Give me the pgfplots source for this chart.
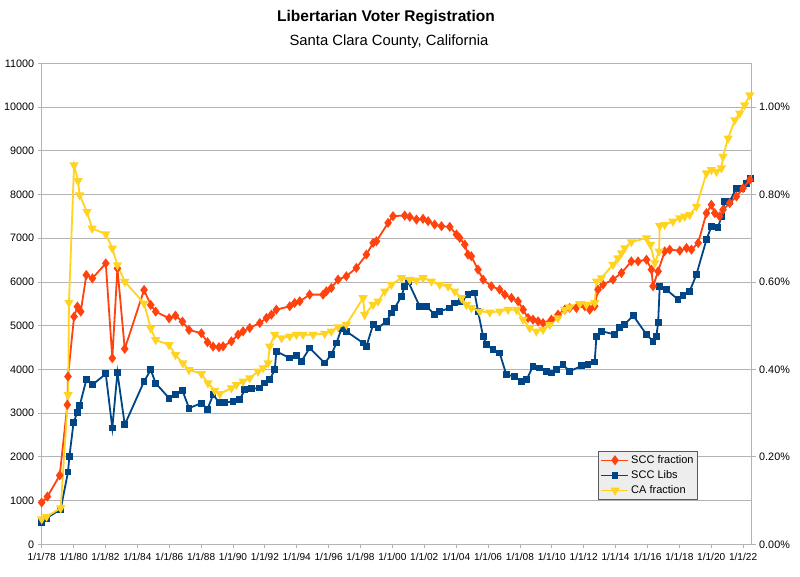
\documentclass[border=0pt]{standalone}
\usepackage{fontspec}
\setmainfont{Liberation Sans}
\usepackage{pgfplots}
\pgfplotsset{compat=1.18}
\definecolor{cred}{HTML}{FF420E}
\definecolor{cblue}{HTML}{004586}
\definecolor{cyel}{HTML}{FFD320}
\definecolor{cgrid}{HTML}{B3B3B3}
\begin{document}
\begin{tikzpicture}
\pgfplotsset{
  common/.style={
    scale only axis, width=710pt, height=481pt,
    at={(0,0)}, anchor=south west,
    xmin=1978, xmax=2022.54,
    tick style={cgrid, line width=0.8pt},
    tick align=outside, major tick length=4pt,
    yticklabel style={font=\fontsize{10.8}{13}\selectfont, text=black},
    xticklabel style={font=\fontsize{10.1}{12}\selectfont, text=black},
    scaled y ticks=false, scaled x ticks=false,
  }
}
\begin{axis}[common,
  ymin=0, ymax=11000,
  axis line style={cgrid, line width=0.8pt},
  ymajorgrids, grid style={cgrid, line width=0.8pt},
  xtick pos=bottom, ytick pos=left,
  xtick={1978,1980,...,2022},
  xticklabels={1/1/78,1/1/80,1/1/82,1/1/84,1/1/86,1/1/88,1/1/90,1/1/92,1/1/94,1/1/96,1/1/98,1/1/00,1/1/02,1/1/04,1/1/06,1/1/08,1/1/10,1/1/12,1/1/14,1/1/16,1/1/18,1/1/20,1/1/22},
  ytick={0,1000,...,11000},
  yticklabels={0,1000,2000,3000,4000,5000,6000,7000,8000,9000,10000,11000},
  xticklabel style={yshift=-1pt},
]
\addplot[cblue, line width=1.8pt, mark=square*, mark size=2.5pt, mark options={solid}] coordinates {
(1978.00,500) (1978.31,598) (1979.19,803) (1979.65,1652) (1979.74,2015)
(1980.00,2788) (1980.24,3023) (1980.38,3167) (1980.80,3761) (1981.18,3647)
(1982.02,3898) (1982.43,2658) (1982.75,3928) (1983.21,2734) (1984.42,3723)
(1984.84,3989) (1985.15,3685) (1985.99,3342) (1986.39,3419) (1986.83,3518)
(1987.24,3114) (1988.02,3228) (1988.40,3091) (1988.75,3419) (1989.12,3251)
(1989.48,3244) (1990.00,3267) (1990.42,3305) (1990.74,3534) (1991.16,3557)
(1991.68,3573) (1991.99,3687) (1992.30,3763) (1992.62,3992) (1992.72,4412)
(1993.56,4260) (1993.98,4321) (1994.29,4183) (1994.81,4489) (1995.75,4145)
(1996.17,4336) (1996.49,4603) (1996.80,4924) (1997.11,4870) (1998.16,4603)
(1998.37,4527) (1998.79,5023) (1999.10,4947) (1999.62,5099) (1999.94,5290)
(2000.15,5405) (2000.57,5672) (2000.77,5901) (2001.00,6000) (2001.71,5443)
(2002.13,5443) (2002.65,5252) (2002.97,5328) (2003.60,5405) (2003.91,5519)
(2004.33,5557) (2004.74,5710) (2005.16,5748) (2005.37,5328) (2005.69,4756)
(2005.90,4565) (2006.31,4450) (2006.73,4374) (2007.15,3878) (2007.67,3840)
(2008.09,3725) (2008.41,3763) (2008.82,4069) (2009.24,4031) (2009.66,3954)
(2009.97,3916) (2010.29,3992) (2010.70,4107) (2011.12,3954) (2011.85,4080)
(2012.27,4114) (2012.69,4167) (2012.80,4760) (2013.11,4875) (2013.95,4798)
(2014.26,4951) (2014.57,5027) (2015.10,5232) (2015.94,4798) (2016.35,4646)
(2016.56,4760) (2016.67,5065) (2016.77,5901) (2017.19,5825) (2017.92,5597)
(2018.23,5688) (2018.65,5787) (2019.07,6167) (2019.70,6966) (2020.01,7270)
(2020.43,7247) (2020.64,7498) (2020.85,7840) (2021.16,7840) (2021.58,8144)
(2021.89,8144) (2022.21,8259) (2022.45,8373)
};
\end{axis}
\begin{axis}[common,
  ymin=0, ymax=1.1,
  hide x axis, axis y line*=right,
  axis line style={cgrid, line width=0.8pt},
  ytick={0,0.2,...,1.0},
  yticklabels={0.00\%,0.20\%,0.40\%,0.60\%,0.80\%,1.00\%},
  legend style={at={(0.784,0.092)}, anchor=south west, fill=black!7, draw=black!65,
    line width=0.8pt, font=\fontsize{11}{13}\selectfont, inner xsep=2pt, inner ysep=2.5pt, row sep=1.6pt},
  legend cell align=left,
  legend image code/.code={\draw[#1, line width=1.5pt] (0pt,0pt) -- (27pt,0pt); \draw[#1, only marks] plot coordinates {(13.5pt,0pt)};},
]
\addplot[cred, line width=1.8pt, mark=diamond*, mark size=3.6pt, mark options={solid}] coordinates {
(1978.00,0.0955) (1978.36,0.1091) (1979.13,0.1576) (1979.61,0.3190) (1979.65,0.3837)
(1980.03,0.5207) (1980.24,0.5435) (1980.45,0.5321) (1980.80,0.6158) (1981.18,0.6082)
(1982.02,0.6425) (1982.43,0.4256) (1982.75,0.6311) (1983.21,0.4469) (1984.42,0.5816)
(1984.84,0.5473) (1985.15,0.5321) (1985.99,0.5169) (1986.39,0.5230) (1986.83,0.5093)
(1987.24,0.4903) (1988.02,0.4826) (1988.40,0.4621) (1988.75,0.4522) (1989.12,0.4507)
(1989.38,0.4527) (1989.90,0.4641) (1990.32,0.4794) (1990.63,0.4870) (1991.05,0.4947)
(1991.68,0.5061) (1992.10,0.5176) (1992.41,0.5252) (1992.72,0.5366) (1993.56,0.5443)
(1993.87,0.5519) (1994.19,0.5557) (1994.81,0.5710) (1995.65,0.5710) (1995.86,0.5786)
(1996.17,0.5863) (1996.59,0.6053) (1997.11,0.6130) (1997.74,0.6321) (1998.37,0.6626)
(1998.79,0.6893) (1999.00,0.6931) (1999.73,0.7351) (2000.04,0.7504) (2000.77,0.7519)
(2001.09,0.7489) (2001.51,0.7427) (2001.92,0.7443) (2002.24,0.7389) (2002.65,0.7313)
(2003.08,0.7275) (2003.60,0.7260) (2004.02,0.7084) (2004.22,0.7008) (2004.54,0.6855)
(2004.74,0.6626) (2004.95,0.6588) (2005.37,0.6282) (2005.69,0.6053) (2006.21,0.5901)
(2006.73,0.5824) (2007.05,0.5710) (2007.47,0.5634) (2007.88,0.5557) (2008.20,0.5366)
(2008.51,0.5176) (2008.82,0.5137) (2009.14,0.5099) (2009.45,0.5061) (2009.97,0.5137)
(2010.39,0.5252) (2010.81,0.5366) (2011.12,0.5405) (2011.54,0.5405) (2012.07,0.5443)
(2012.38,0.5366) (2012.69,0.5445) (2012.90,0.5825) (2013.21,0.5939) (2013.84,0.6053)
(2014.37,0.6205) (2014.99,0.6471) (2015.41,0.6471) (2015.94,0.6509) (2016.25,0.6281)
(2016.35,0.5901) (2016.67,0.6243) (2017.08,0.6700) (2017.40,0.6738) (2018.03,0.6715)
(2018.45,0.6776) (2018.76,0.6738) (2019.18,0.6890) (2019.70,0.7574) (2020.01,0.7764)
(2020.22,0.7574) (2020.53,0.7498) (2020.74,0.7650) (2021.16,0.7802) (2021.58,0.7954)
(2022.00,0.8144) (2022.42,0.8335)
};
\addlegendentry{SCC fraction}
\addlegendimage{cblue, line width=1.8pt, mark=square*, mark size=2.5pt}
\addlegendentry{SCC Libs}
\addplot[cyel, line width=1.8pt, mark=triangle*, mark size=3.6pt, mark options={solid, rotate=180}] coordinates {
(1978.00,0.0576) (1978.31,0.0636) (1979.19,0.0826) (1979.66,0.3419) (1979.71,0.5527)
(1980.03,0.8670) (1980.28,0.8312) (1980.38,0.7985) (1980.84,0.7604) (1981.16,0.7224)
(1982.02,0.7094) (1982.43,0.6767) (1982.75,0.6387) (1983.21,0.6006) (1984.42,0.5511)
(1984.84,0.4941) (1985.15,0.4674) (1985.99,0.4560) (1986.39,0.4332) (1986.86,0.4142)
(1987.24,0.3990) (1988.02,0.3898) (1988.43,0.3685) (1988.85,0.3518) (1989.17,0.3440)
(1989.90,0.3573) (1990.21,0.3649) (1990.63,0.3725) (1991.05,0.3802) (1991.57,0.3954)
(1991.89,0.4031) (1992.20,0.4145) (1992.30,0.4527) (1992.62,0.4794) (1993.04,0.4718)
(1993.56,0.4756) (1993.98,0.4794) (1994.39,0.4794) (1995.02,0.4794) (1995.75,0.4817)
(1996.17,0.4870) (1996.59,0.4970) (1997.11,0.5023) (1998.16,0.5634) (1998.26,0.5252)
(1998.79,0.5481) (1999.10,0.5557) (1999.52,0.5786) (1999.94,0.5939) (2000.57,0.6092)
(2001.09,0.6053) (2001.51,0.6038) (2001.92,0.6092) (2002.45,0.6015) (2002.97,0.5939)
(2003.49,0.5901) (2003.91,0.5786) (2004.33,0.5634) (2004.64,0.5481) (2004.95,0.5405)
(2005.48,0.5328) (2006.11,0.5305) (2006.73,0.5328) (2007.26,0.5366) (2007.78,0.5366)
(2008.20,0.5137) (2008.61,0.4947) (2009.03,0.4870) (2009.45,0.4908) (2009.87,0.5023)
(2010.39,0.5176) (2010.81,0.5366) (2011.12,0.5427) (2011.75,0.5500) (2012.17,0.5483)
(2012.69,0.5521) (2012.80,0.6015) (2013.11,0.6091) (2013.84,0.6395) (2014.15,0.6548)
(2014.37,0.6662) (2014.57,0.6776) (2014.99,0.6913) (2015.94,0.7004) (2016.19,0.6852)
(2016.46,0.6433) (2016.73,0.6700) (2016.77,0.7285) (2017.08,0.7308) (2017.60,0.7384)
(2018.03,0.7460) (2018.34,0.7498) (2018.65,0.7536) (2019.07,0.7726) (2019.70,0.8487)
(2020.01,0.8563) (2020.33,0.8525) (2020.64,0.8601) (2020.74,0.8867) (2021.06,0.9285)
(2021.48,0.9703) (2021.79,0.9856) (2022.10,1.0046) (2022.42,1.0274)
};
\addlegendentry{CA fraction}
\end{axis}
\node[font=\fontsize{15.5}{18}\selectfont\bfseries] at (344.3pt,526.3pt) {Libertarian Voter Registration};
\node[font=\fontsize{14.8}{17}\selectfont] at (347.3pt,502.3pt) {Santa Clara County, California};
\path (-41.7pt,-32.7pt) rectangle (758.3pt,544.3pt);
\end{tikzpicture}
\end{document}
